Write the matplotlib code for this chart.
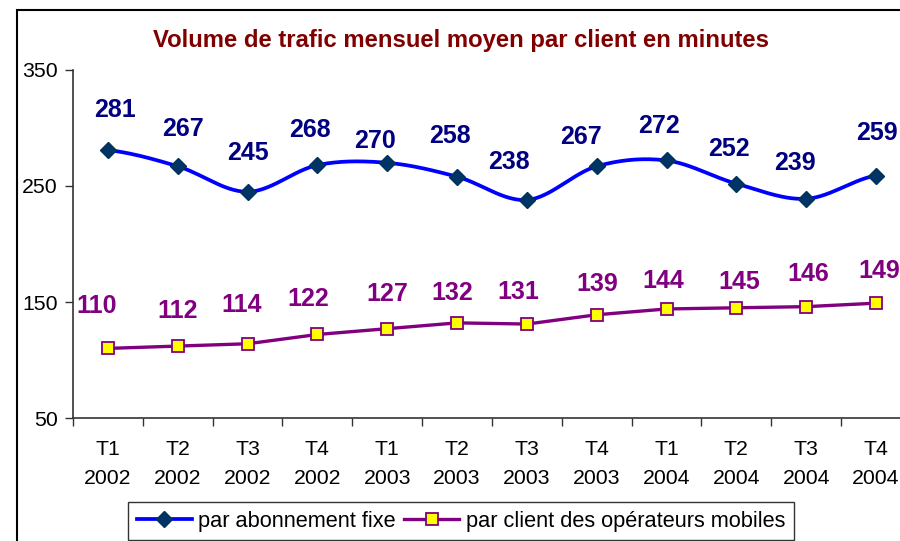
import numpy as np
import matplotlib
matplotlib.use("Agg")
import matplotlib.pyplot as plt
from matplotlib.patches import Rectangle
from matplotlib.lines import Line2D

plt.rcParams['font.family'] = ['Liberation Sans', 'DejaVu Sans']

# ---- data ----
quarters = ["T1", "T2", "T3", "T4", "T1", "T2", "T3", "T4", "T1", "T2", "T3", "T4"]
years = ["2002", "2002", "2002", "2002", "2003", "2003", "2003", "2003",
         "2004", "2004", "2004", "2004"]
fixe = [281, 267, 245, 268, 270, 258, 238, 267, 272, 252, 239, 259]
mobile = [110, 112, 114, 122, 127, 132, 131, 139, 144, 145, 146, 149]
series_names = ["par abonnement fixe", "par client des opérateurs mobiles"]
title = "Volume de trafic mensuel moyen par client en minutes"
yticks = [50, 150, 250, 350]

# label offsets (pixels) -- styling only
fixe_dx = [7, 5, 0, -7, -12, -7, -18, -16, -8, -7, -11, 1]
fixe_dy = [40, 37, 39, 35, 22, 41, 38, 29, 34, 35, 36, 43]
mob_dx = [-11, 0, -6, -9, 0, -5, -9, 1, -3, 3, 2, 3]
mob_dy = [42, 35, 39, 35, 35, 30, 32, 31, 28, 26, 33, 32]


def catmull_rom(x, y, n=30):
    x = np.asarray(x, float)
    y = np.asarray(y, float)
    px = np.concatenate([[2 * x[0] - x[1]], x, [2 * x[-1] - x[-2]]])
    py = np.concatenate([[y[0]], y, [y[-1]]])
    xs, ys = [], []
    for i in range(1, len(px) - 2):
        p0, p1, p2, p3 = (np.array([px[j], py[j]]) for j in (i - 1, i, i + 1, i + 2))
        c1 = p1 + (p2 - p0) / 6.0
        c2 = p2 - (p3 - p1) / 6.0
        t = np.linspace(0, 1, n)[:, None]
        b = ((1 - t) ** 3) * p1 + 3 * ((1 - t) ** 2) * t * c1 + 3 * (1 - t) * t ** 2 * c2 + t ** 3 * p2
        xs.append(b[:, 0])
        ys.append(b[:, 1])
    return np.concatenate(xs), np.concatenate(ys)


W, H = 900, 541
fig = plt.figure(figsize=(W / 100, H / 100), dpi=100)
ax = fig.add_axes([73 / W, 1 - 418 / H, (911 - 73) / W, (418 - 70) / H])

x = np.arange(len(fixe))

# fixe line
sx, sy = catmull_rom(x, fixe)
ax.plot(sx, sy, color='#0000FF', lw=2.7, solid_capstyle='round', zorder=3)
ax.plot(x, fixe, linestyle='none', marker='D', markersize=8,
        markerfacecolor='#003366', markeredgecolor='#003355', zorder=4)

# mobile line
ax.plot(x, mobile, color='#800080', lw=2.4, zorder=3)
ax.plot(x, mobile, linestyle='none', marker='s', markersize=9,
        markerfacecolor='#FFFF00', markeredgecolor='#800080', markeredgewidth=1.3, zorder=4)

for i, v in enumerate(fixe):
    ax.annotate(str(v), (x[i], v), xytext=(fixe_dx[i], fixe_dy[i]), textcoords='offset pixels',
                ha='center', va='center', fontsize=18, fontweight='bold', color='#000080')
for i, v in enumerate(mobile):
    ax.annotate(str(v), (x[i], v), xytext=(mob_dx[i], mob_dy[i]), textcoords='offset pixels',
                ha='center', va='center', fontsize=18, fontweight='bold', color='#800080')

ax.set_xlim(-0.5, len(fixe) - 0.5)
ax.set_ylim(50, 350)
ax.set_yticks(yticks)
ax.set_yticklabels([str(t) for t in yticks], fontsize=15.3)
ax.set_xticks(x)
ax.set_xticklabels([f"{q}\n{yr}" for q, yr in zip(quarters, years)], fontsize=15.3, linespacing=1.65)
ax.set_xticks(np.arange(-0.5, len(fixe), 1.0), minor=True)
ax.tick_params(axis='x', which='major', length=0, pad=16)
ax.tick_params(axis='x', which='minor', length=6, width=1, direction='out', color='#333333')
ax.tick_params(axis='y', length=6, width=1, direction='out', color='#333333', pad=5)
for s in ['top', 'right']:
    ax.spines[s].set_visible(False)
for s in ['left', 'bottom']:
    ax.spines[s].set_color('#333333')
    ax.spines[s].set_linewidth(1.2)

fig.text(461 / W, 1 - 40 / H, title, ha='center', va='center', fontsize=17.2,
         fontweight='bold', color='#800000')

# outer frame
fig.patches.append(Rectangle((17 / W, -0.2), 1.2, 1 - 10 / H + 0.2, transform=fig.transFigure,
                             fill=False, edgecolor='black', linewidth=1.5, clip_on=False))

h1 = Line2D([], [], color='#0000FF', lw=2.7, marker='D', markersize=8,
            markerfacecolor='#003366', markeredgecolor='#003355')
h2 = Line2D([], [], color='#800080', lw=2.4, marker='s', markersize=9,
            markerfacecolor='#FFFF00', markeredgecolor='#800080', markeredgewidth=1.3)
leg = fig.legend([h1, h2], series_names, loc='upper center', bbox_to_anchor=(461 / W, 1 - 502 / H),
                 ncol=2, fontsize=15.7, frameon=True, fancybox=False, edgecolor='black',
                 handlelength=2.5, handletextpad=0.3, columnspacing=0.4, borderpad=0.4,
                 borderaxespad=0)
leg.get_frame().set_linewidth(1.0)

fig.savefig('out.png', dpi=100)
